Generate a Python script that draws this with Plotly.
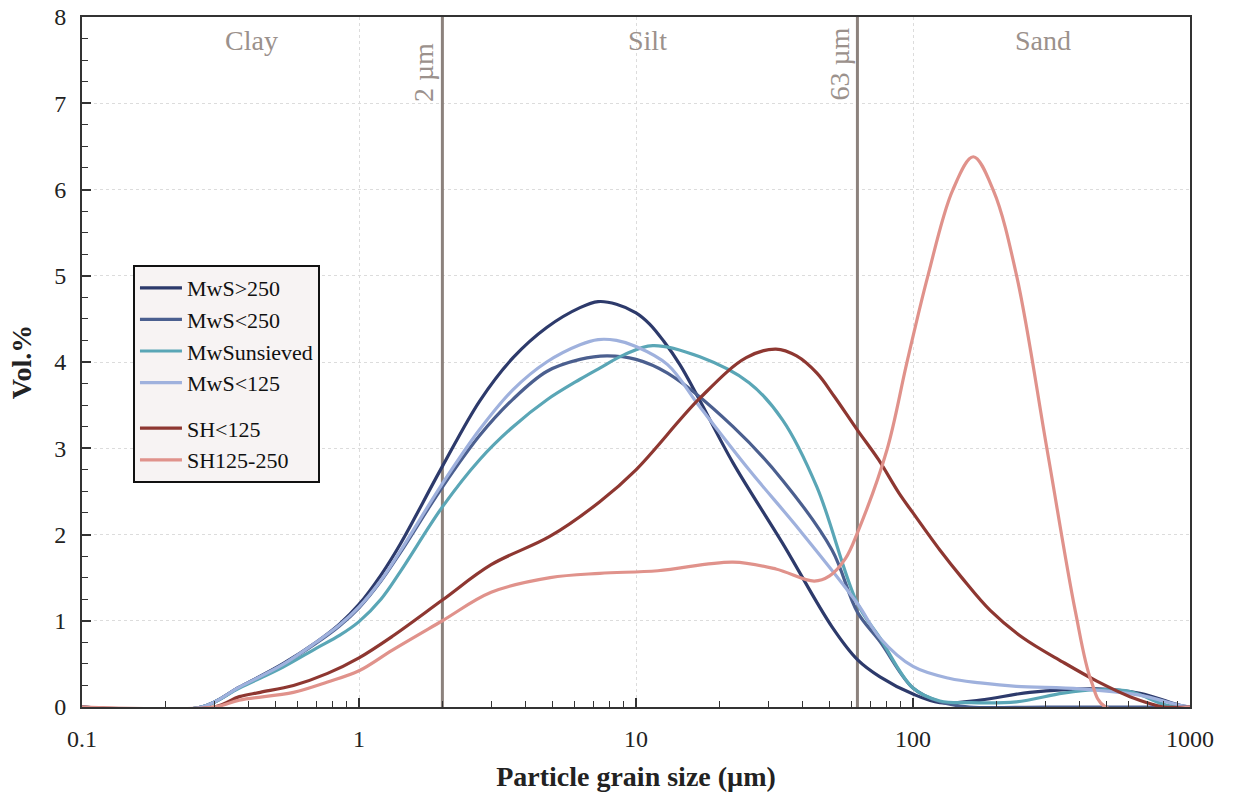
import math
import plotly.graph_objects as go

# ---- data (grain size in µm, volume %) ----
mws_gt250_x = [0.1, 0.27, 0.37, 0.53, 0.70, 0.85, 1.0, 1.2, 1.41, 2.0, 2.73, 3.6, 4.76, 6.28, 7.3, 8.5, 10, 11.2, 12.6, 14.4, 16.7, 22.4, 33.8, 51, 63, 76, 100, 125, 175, 264, 461, 659, 920, 1000]
mws_gt250_y = [0, 0, 0.23, 0.50, 0.75, 0.96, 1.19, 1.53, 1.89, 2.79, 3.55, 4.05, 4.40, 4.63, 4.70, 4.67, 4.57, 4.44, 4.24, 3.97, 3.6, 2.83, 1.90, 0.93, 0.55, 0.35, 0.15, 0.05, 0.08, 0.17, 0.21, 0.16, 0.02, 0]

mws_lt250_x = [0.1, 0.27, 0.37, 0.53, 0.70, 0.85, 1.0, 1.2, 1.41, 2.0, 2.73, 3.6, 4.76, 6.28, 7.85, 10, 13.0, 22.4, 33.8, 51, 63, 76, 100, 125, 160, 300, 1000]
mws_lt250_y = [0, 0, 0.23, 0.49, 0.74, 0.94, 1.15, 1.46, 1.79, 2.55, 3.15, 3.57, 3.89, 4.03, 4.07, 4.03, 3.87, 3.25, 2.63, 1.82, 1.1, 0.76, 0.22, 0.06, 0.0, 0.0, 0]

mws_uns_x = [0.1, 0.27, 0.37, 0.53, 0.70, 0.85, 1.0, 1.2, 1.41, 2.0, 2.73, 3.6, 4.76, 6.28, 7.4, 9.0, 11.5, 17, 25.6, 33.8, 45, 63, 76, 100, 125, 160, 236, 348, 461, 607, 826, 1000]
mws_uns_y = [0, 0, 0.22, 0.46, 0.68, 0.83, 0.99, 1.25, 1.57, 2.32, 2.87, 3.25, 3.56, 3.8, 3.93, 4.08, 4.19, 4.06, 3.76, 3.33, 2.55, 1.2, 0.8, 0.22, 0.07, 0.05, 0.06, 0.16, 0.2, 0.18, 0.02, 0]

mws_lt125_x = [0.1, 0.27, 0.37, 0.53, 0.70, 0.85, 1.0, 1.2, 1.41, 2.0, 2.73, 3.6, 4.76, 6.28, 7.3, 8.5, 10, 13, 17, 25.6, 39, 63, 76, 100, 136, 175, 236, 400, 650, 920, 1000]
mws_lt125_y = [0, 0, 0.23, 0.49, 0.75, 0.95, 1.16, 1.47, 1.81, 2.59, 3.22, 3.68, 4.00, 4.20, 4.26, 4.25, 4.18, 3.97, 3.48, 2.75, 2.05, 1.2, 0.8, 0.47, 0.33, 0.28, 0.24, 0.21, 0.14, 0.02, 0]

sh_lt125_x = [0.1, 0.30, 0.37, 0.44, 0.58, 0.77, 1.0, 1.32, 2.0, 3.0, 4.9, 7.4, 10, 17, 25, 32, 38, 45, 52, 63, 75, 89, 100, 125, 150, 190, 250, 348, 461, 607, 735, 800, 1000]
sh_lt125_y = [0, 0, 0.12, 0.17, 0.25, 0.39, 0.57, 0.82, 1.24, 1.65, 1.98, 2.38, 2.75, 3.58, 4.05, 4.15, 4.07, 3.87, 3.6, 3.21, 2.87, 2.48, 2.25, 1.82, 1.5, 1.12, 0.8, 0.52, 0.3, 0.12, 0.03, 0, 0]

sh_125_250_x = [0.1, 0.30, 0.37, 0.58, 0.77, 1.0, 1.32, 2.0, 3.0, 4.9, 7.4, 12, 22.4, 32, 44, 50, 57, 63, 80.5, 95, 113, 139, 165, 195, 237, 305, 385, 440, 495, 1000]
sh_125_250_y = [0, 0, 0.08, 0.17, 0.29, 0.42, 0.66, 1.0, 1.33, 1.5, 1.55, 1.58, 1.68, 1.6, 1.46, 1.52, 1.72, 2.02, 2.98, 3.99, 4.99, 5.99, 6.38, 5.99, 4.99, 2.98, 1.12, 0.3, 0, 0]

series_names = ["MwS>250", "MwS<250", "MwSunsieved", "MwS<125", "SH<125", "SH125-250"]
series_colors = ["#2d3a6b", "#4b5f8f", "#5aa6b6", "#9fb1dd", "#8e3731", "#e0928b"]
series_groups = ["MwS", "MwS", "MwS", "MwS", "SH", "SH"]
series_x = [mws_gt250_x, mws_lt250_x, mws_uns_x, mws_lt125_x, sh_lt125_x, sh_125_250_x]
series_y = [mws_gt250_y, mws_lt250_y, mws_uns_y, mws_lt125_y, sh_lt125_y, sh_125_250_y]

boundaries = [2, 63]
boundary_labels = ["2 µm", "63 µm"]
boundary_label_x = [1.70, 54.5]
boundary_label_y = [7.36, 7.46]
class_labels = ["Clay", "Silt", "Sand"]
class_label_x = [0.41, 11.0, 294]
class_label_y = 7.73
y_range = [0, 8]
x_major = [0.1, 1, 10, 100, 1000]
x_major_text = ["0.1", "1", "10", "100", "1000"]
x_minor = [m * d for d in [0.1, 1, 10, 100] for m in range(2, 10)]

FONT = "Liberation Serif, Times New Roman, serif"
GREY = "#9b918c"

fig = go.Figure()

for b in boundaries:
    fig.add_trace(go.Scatter(x=[b, b], y=y_range, mode="lines",
                             line=dict(color="#8c827d", width=3),
                             showlegend=False, hoverinfo="skip"))

for name, color, grp, xs, ys in zip(series_names, series_colors, series_groups, series_x, series_y):
    fig.add_trace(go.Scatter(x=xs, y=ys, mode="lines", name=name, legendgroup=grp,
                             line=dict(color=color, width=3.2, shape="spline", smoothing=1.0)))

annotations = []
for lab, lx in zip(class_labels, class_label_x):
    annotations.append(dict(x=math.log10(lx), y=class_label_y, text=lab, showarrow=False,
                            font=dict(family=FONT, size=28, color=GREY)))
for lab, lx, ly in zip(boundary_labels, boundary_label_x, boundary_label_y):
    annotations.append(dict(x=math.log10(lx), y=ly, text=lab, textangle=-90,
                            showarrow=False, font=dict(family=FONT, size=28, color=GREY)))

fig.update_layout(
    width=1233, height=798,
    margin=dict(l=82, r=43, t=17, b=91, autoexpand=False),
    paper_bgcolor="white", plot_bgcolor="white",
    font=dict(family=FONT, size=24, color="#222"),
    annotations=annotations,
    legend=dict(x=0.046, y=0.6406, xanchor="left", yanchor="top",
                bgcolor="#f7f3f3", bordercolor="#111", borderwidth=2,
                font=dict(family=FONT, size=22, color="#111"),
                traceorder="grouped", tracegroupgap=14, itemwidth=42),
)

fig.update_xaxes(type="log", range=[-1, 3], automargin=False,
                 tickvals=x_major, ticktext=x_major_text,
                 ticks="inside", ticklen=9, tickwidth=1.5, tickcolor="#333",
                 minor=dict(tickvals=x_minor, ticks="inside", ticklen=6, tickwidth=1.3, tickcolor="#333", showgrid=False),
                 showline=True, linecolor="#333", linewidth=2, mirror=True,
                 showgrid=True, gridcolor="#dcdcdc", griddash="dot", gridwidth=1,
                 zeroline=False, ticklabelstandoff=9, ticklabeloverflow="allow",
                 tickfont=dict(family=FONT, size=24, color="#222"),
                 title=dict(text="<b>Particle grain size (µm)</b>", font=dict(family=FONT, size=28, color="#222"), standoff=16))

fig.update_yaxes(range=y_range, dtick=1, automargin=False,
                 ticks="inside", ticklen=9, tickwidth=1.5, tickcolor="#333",
                 minor=dict(ticks="inside", ticklen=6, tickwidth=1.3, tickcolor="#333", dtick=0.25, showgrid=False),
                 showline=True, linecolor="#333", linewidth=2, mirror=True,
                 showgrid=True, gridcolor="#dcdcdc", griddash="dot", gridwidth=1,
                 zeroline=False, ticklabelstandoff=9, ticklabeloverflow="allow",
                 tickfont=dict(family=FONT, size=24, color="#222"),
                 title=dict(text="<b>Vol.%</b>", font=dict(family=FONT, size=28, color="#222"), standoff=14))

fig.write_html("out.html", config={"displayModeBar": False},
               post_script="document.body.style.margin='0';")
